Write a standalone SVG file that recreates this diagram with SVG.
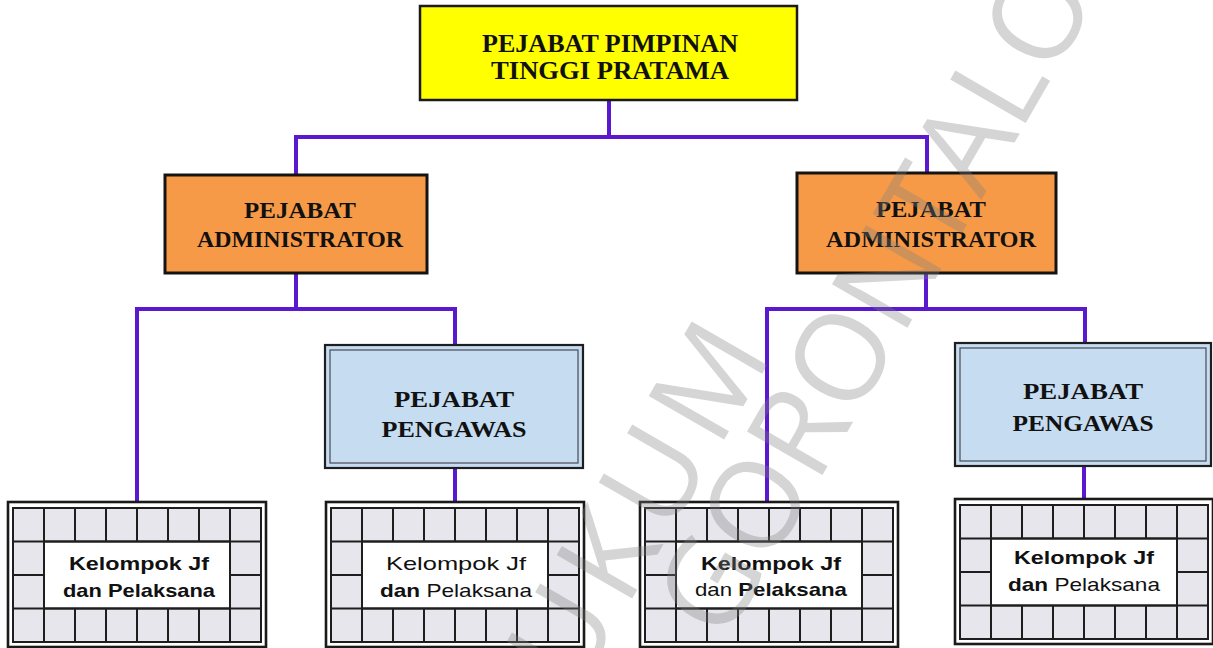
<svg xmlns="http://www.w3.org/2000/svg" xmlns:xlink="http://www.w3.org/1999/xlink" width="1213" height="648" viewBox="0 0 1213 648">
<style>
.conn{fill:none;stroke:#5a18cf;stroke-width:4;stroke-linecap:square}
.top{fill:#ffff00;stroke:#1a1a1a;stroke-width:2.5}
.adm{fill:#f79a48;stroke:#141414;stroke-width:3}
.pgw{fill:#c6dcf1;stroke:#1e1e1e;stroke-width:2.2}
.pgwin{fill:none;stroke:#4a4a55;stroke-width:1.2}
.ser{font-family:"Liberation Serif","Times New Roman",serif;font-weight:bold;fill:#111;text-anchor:middle}
.san{font-family:"Liberation Sans",Arial,sans-serif;fill:#111;text-anchor:middle;font-size:19px}
.b{font-weight:bold}
.n{font-weight:normal}
.cell{fill:#e6e6ec;stroke:#1e1e1e;stroke-width:2}
.ln{stroke:#1e1e1e;stroke-width:2;fill:none}
.wm{font-family:"Open Sans","Liberation Sans",sans-serif;font-weight:400;font-size:122px;fill:#808080;fill-opacity:0.33;text-anchor:end}
</style>
<defs>
<g id="grid">
<rect x="0" y="0" width="258" height="145" fill="#ffffff" stroke="#1a1a1a" stroke-width="2.6"/>
<rect class="cell" x="5" y="6" width="248" height="134"/>
<rect x="36" y="39.5" width="186" height="67" fill="#ffffff" stroke="#1e1e1e" stroke-width="2"/>
<path class="ln" d="M36,6V39.5M67,6V39.5M98,6V39.5M129,6V39.5M160,6V39.5M191,6V39.5M222,6V39.5M36,106.5V140M67,106.5V140M98,106.5V140M129,106.5V140M160,106.5V140M191,106.5V140M222,106.5V140M5,39.5H253M5,106.5H253M5,73H36M222,73H253"/>
</g>
</defs>

<g id="connectors">
<path class="conn" d="M609,100V137"/>
<path class="conn" d="M296,175V137H927V173"/>
<path class="conn" d="M296,273V309"/>
<path class="conn" d="M137,502V309H455V345"/>
<path class="conn" d="M926,273V309"/>
<path class="conn" d="M767,502V309H1085V343"/>
<path class="conn" d="M455,468V502"/>
<path class="conn" d="M1084,466V499"/>
</g>

<g id="pimpinan">
<rect class="top" x="420" y="6" width="377" height="94"/>
<text class="ser" x="610" y="52" font-size="25" textLength="256" lengthAdjust="spacingAndGlyphs">PEJABAT PIMPINAN</text>
<text class="ser" x="610" y="79" font-size="25" textLength="238" lengthAdjust="spacingAndGlyphs">TINGGI PRATAMA</text>
</g>

<g id="admin-left">
<rect class="adm" x="165" y="175" width="262" height="98"/>
<text class="ser" x="300" y="218" font-size="23" textLength="112" lengthAdjust="spacingAndGlyphs">PEJABAT</text>
<text class="ser" x="300" y="247" font-size="23" textLength="206" lengthAdjust="spacingAndGlyphs">ADMINISTRATOR</text>
</g>

<g id="admin-right">
<rect class="adm" x="797" y="173" width="259" height="100"/>
<text class="ser" x="931" y="217" font-size="23" textLength="110" lengthAdjust="spacingAndGlyphs">PEJABAT</text>
<text class="ser" x="931" y="247" font-size="23" textLength="210" lengthAdjust="spacingAndGlyphs">ADMINISTRATOR</text>
</g>

<g id="pengawas-left">
<rect class="pgw" x="325" y="345" width="258" height="123"/>
<rect class="pgwin" x="330" y="350" width="248" height="113"/>
<text class="ser" x="454" y="407" font-size="24" textLength="120" lengthAdjust="spacingAndGlyphs">PEJABAT</text>
<text class="ser" x="454" y="437" font-size="24" textLength="145" lengthAdjust="spacingAndGlyphs">PENGAWAS</text>
</g>

<g id="pengawas-right">
<rect class="pgw" x="955" y="343" width="256" height="123"/>
<rect class="pgwin" x="960" y="348" width="246" height="113"/>
<text class="ser" x="1083" y="399" font-size="24" textLength="120" lengthAdjust="spacingAndGlyphs">PEJABAT</text>
<text class="ser" x="1083" y="431" font-size="24" textLength="141" lengthAdjust="spacingAndGlyphs">PENGAWAS</text>
</g>

<g id="kelompok-1">
<use xlink:href="#grid" x="8" y="502"/>
<text class="san b" x="139" y="570" textLength="140" lengthAdjust="spacingAndGlyphs">Kelompok Jf</text>
<text class="san b" x="139" y="597" textLength="152" lengthAdjust="spacingAndGlyphs">dan Pelaksana</text>
</g>

<g id="kelompok-2">
<use xlink:href="#grid" x="326" y="502"/>
<text class="san" x="456" y="570" textLength="140" lengthAdjust="spacingAndGlyphs">Kelompok Jf</text>
<text class="san" x="456" y="597" textLength="152" lengthAdjust="spacingAndGlyphs"><tspan class="b">dan</tspan> Pelaksana</text>
</g>

<g id="kelompok-3">
<use xlink:href="#grid" x="640" y="502"/>
<text class="san b" x="771" y="570" textLength="140" lengthAdjust="spacingAndGlyphs">Kelompok Jf</text>
<text class="san" x="771" y="596" textLength="152" lengthAdjust="spacingAndGlyphs"><tspan class="n">dan</tspan> <tspan class="b">Pelaksana</tspan></text>
</g>

<g id="kelompok-4">
<use xlink:href="#grid" x="955" y="499"/>
<text class="san b" x="1084" y="564" textLength="140" lengthAdjust="spacingAndGlyphs">Kelompok Jf</text>
<text class="san" x="1084" y="591" textLength="152" lengthAdjust="spacingAndGlyphs"><tspan class="b">dan</tspan> Pelaksana</text>
</g>

<g id="watermark">
<text class="wm" transform="translate(778,346) rotate(-60)" letter-spacing="10">HUKUM</text>
<text class="wm" transform="translate(1099,-4) rotate(-60)">GORONTALO</text>
</g>
</svg>
